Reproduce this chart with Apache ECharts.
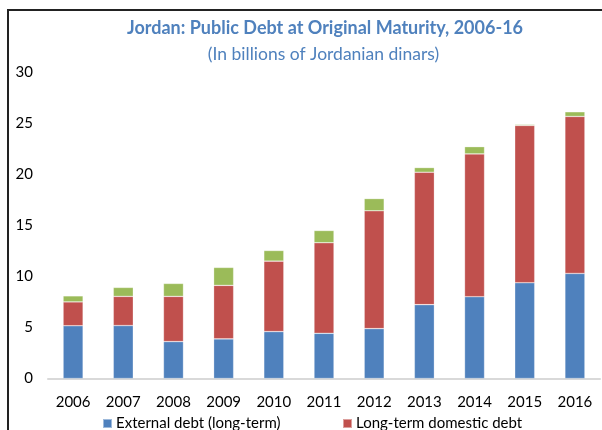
<!DOCTYPE html>
<html>
<head>
<meta charset="utf-8">
<script src="https://cdn.jsdelivr.net/npm/echarts@6/dist/echarts.min.js"></script>
<style>
html,body{margin:0;padding:0;background:#fff;}
#chart{width:602px;height:430px;}
</style>
</head>
<body>
<div id="chart"></div>
<script>
var categories = ['2006','2007','2008','2009','2010','2011','2012','2013','2014','2015','2016'];
var externalDebt = [5.17, 5.19, 3.62, 3.88, 4.60, 4.43, 4.89, 7.24, 8.02, 9.39, 10.30];
var domesticLongTerm = [2.34, 2.86, 4.43, 5.25, 6.91, 8.88, 11.55, 12.98, 14.00, 15.42, 15.39];
var domesticShortTerm = [0.59, 0.88, 1.27, 1.76, 1.04, 1.20, 1.20, 0.46, 0.71, 0.10, 0.46];
var yTicks = [0, 5, 10, 15, 20, 25, 30];

var FONT = "Lato, sans-serif";
var chart = echarts.init(document.getElementById('chart'), null, {renderer: 'canvas'});
function barSeries(name, data, color) {
  return {
    name: name, type: 'bar', stack: 'total', data: data, barWidth: 20,
    itemStyle: {color: color, borderColor: 'rgba(255,255,255,0.45)', borderWidth: 0.6},
    emphasis: {disabled: true}
  };
}
var legendText = {fontFamily: FONT, fontSize: 15, color: '#000', padding: [0,0,0,-1]};
chart.setOption({
  animation: false,
  title: [
    {text: 'Jordan: Public Debt at Original Maturity, 2006-16', left: 320, top: 14, textAlign: 'center',
     textStyle: {fontFamily: FONT, fontSize: 18, fontWeight: 'bold', color: '#4F81BD'}},
    {text: '(In billions of Jordanian dinars)', left: 318.5, top: 40, textAlign: 'center',
     textStyle: {fontFamily: FONT, fontSize: 17.5, fontWeight: 'normal', color: '#4F81BD'}}
  ],
  graphic: [{type: 'rect', shape: {x: 8, y: 10, width: 700, height: 500},
    style: {fill: 'none', stroke: '#222', lineWidth: 2}, silent: true}],
  legend: [
    {data: ['External debt (long-term)'], left: 97, top: 411, itemWidth: 9, itemHeight: 9, icon: 'rect', textStyle: legendText},
    {data: ['Long-term domestic debt'], left: 337, top: 411, itemWidth: 9, itemHeight: 9, icon: 'rect', textStyle: legendText}
  ],
  grid: {left: 48, right: 2, top: 72.5, bottom: 51.5, containLabel: false},
  xAxis: {
    type: 'category', data: categories,
    axisLine: {lineStyle: {color: '#d9d9d9', width: 2}},
    axisTick: {show: false},
    axisLabel: {fontFamily: FONT, fontSize: 15, color: '#000', margin: 16}
  },
  yAxis: {
    type: 'value', min: yTicks[0], max: yTicks[yTicks.length-1], interval: 5,
    splitLine: {show: false}, axisLine: {show: false}, axisTick: {show: false},
    axisLabel: {fontFamily: FONT, fontSize: 15, color: '#000', margin: 15}
  },
  series: [
    barSeries('External debt (long-term)', externalDebt, '#4F81BD'),
    barSeries('Long-term domestic debt', domesticLongTerm, '#C0504D'),
    barSeries('Short-term domestic debt', domesticShortTerm, '#9BBB59')
  ]
});
</script>
</body>
</html>
